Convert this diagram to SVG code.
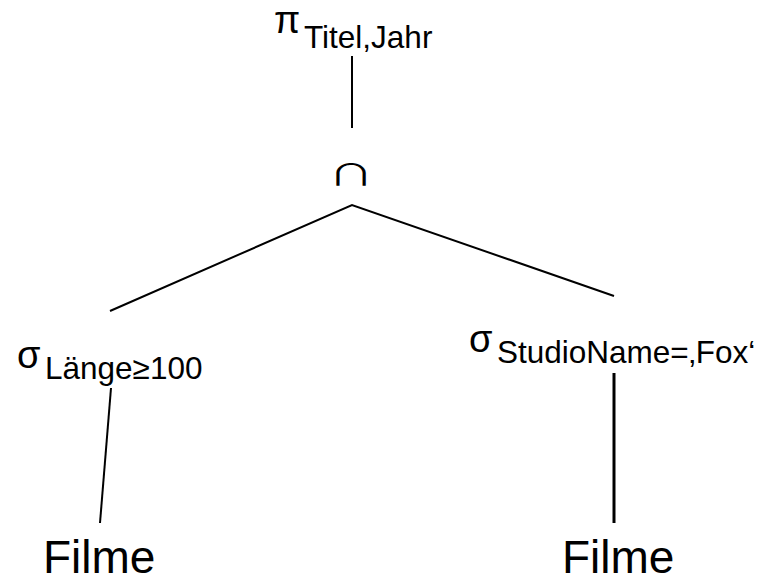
<svg xmlns="http://www.w3.org/2000/svg" width="762" height="582" viewBox="0 0 762 582">
<style>
.t{font-family:"Liberation Sans","Arial",sans-serif;fill:#000}
.g{font-size:38px}
.s{font-size:31.5px}
.f{font-size:46px}
.c{stroke:#000;stroke-width:2;fill:none}
</style>
<rect width="762" height="582" fill="#fff"/>
<g id="connectors">
<line class="c" x1="352" y1="56" x2="352" y2="128"/>
<polyline class="c" points="110,311 352,205 614,296"/>
<line class="c" x1="111" y1="388" x2="100" y2="523"/>
<line class="c" x1="614" y1="373" x2="614" y2="523" style="stroke-width:3"/>
</g>
<g id="proj">
<text class="t" y="33"><tspan class="g" x="274">π</tspan><tspan class="s" x="304" y="48">Titel,Jahr</tspan></text>
</g>
<g id="intersect">
<text x="0" y="0" font-size="30" text-anchor="middle" transform="translate(351,185) scale(1.52,1)" style="font-family:'Noto Sans CJK JP',sans-serif;fill:#000">∩</text>
</g>
<g id="selLeft">
<text class="t" y="368"><tspan class="g" x="17">σ</tspan><tspan class="s" x="45" y="379">Länge≥100</tspan></text>
</g>
<g id="selRight">
<text class="t" y="352"><tspan class="g" x="469">σ</tspan><tspan class="s" x="497" y="363">StudioName=‚Fox‘</tspan></text>
</g>
<g id="filmeLeft"><text class="t f" x="43" y="573">Filme</text></g>
<g id="filmeRight"><text class="t f" x="562" y="573">Filme</text></g>
</svg>
